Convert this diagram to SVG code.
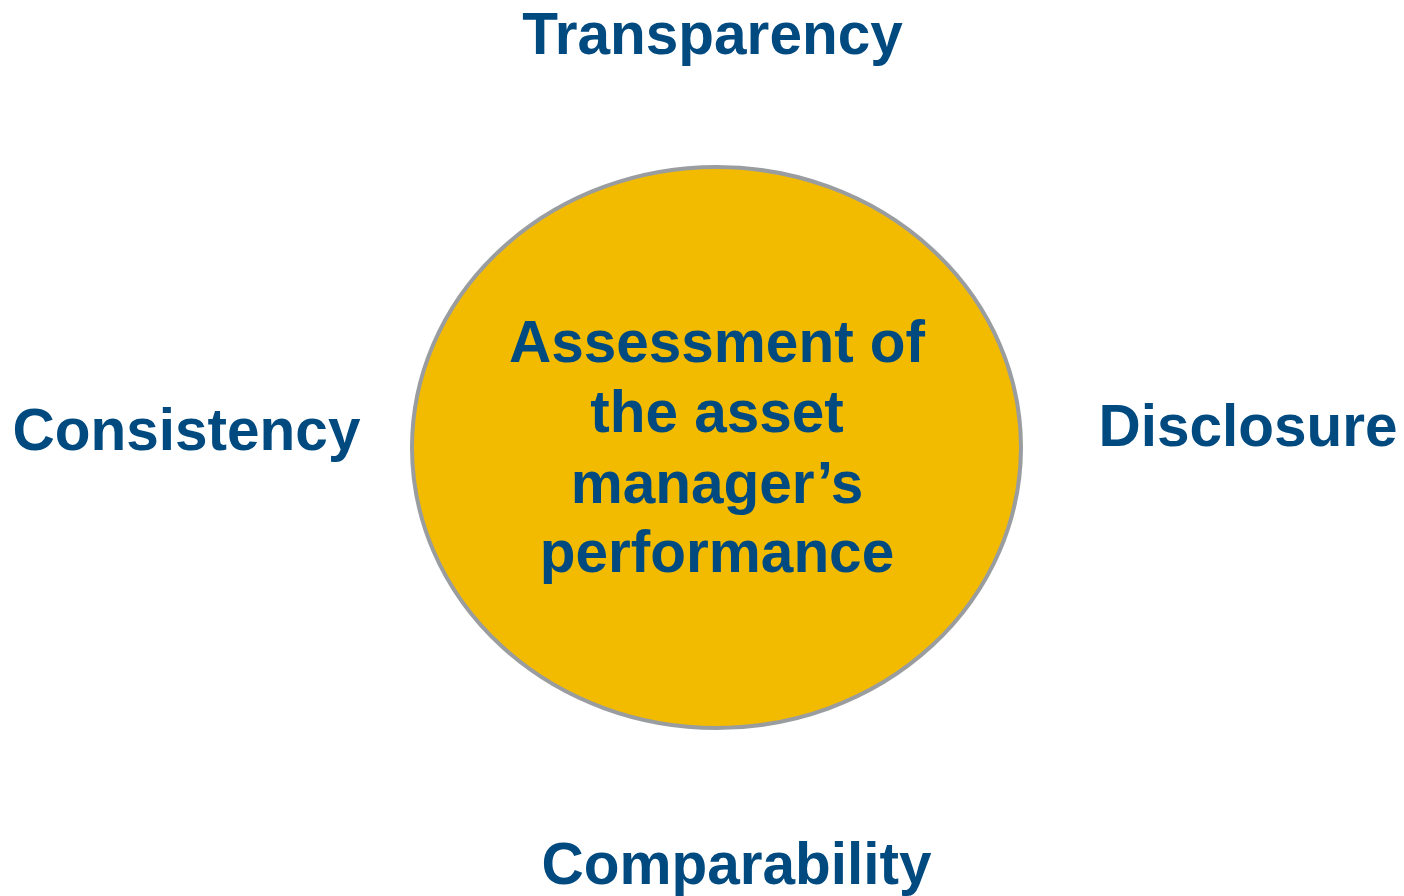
<svg xmlns="http://www.w3.org/2000/svg" width="1404" height="896" viewBox="0 0 1404 896">
<style>
text{font-family:"Liberation Sans",Arial,sans-serif;font-weight:bold;font-size:58.5px;fill:#004A80;text-anchor:middle}
</style>
<rect width="1404" height="896" fill="#fff"/>
<g id="center">
<ellipse cx="716.5" cy="447.5" rx="304.5" ry="280.5" fill="#F2BB00" stroke="#9A9DA0" stroke-width="4"/>
<text x="717" y="362">Assessment of</text>
<text x="717" y="432">the asset</text>
<text x="717" y="503">manager’s</text>
<text x="717" y="572">performance</text>
</g>
<g id="transparency"><text x="712.5" y="54">Transparency</text></g>
<g id="consistency"><text x="186.5" y="450">Consistency</text></g>
<g id="disclosure"><text x="1248" y="446">Disclosure</text></g>
<g id="comparability"><text x="736.5" y="884">Comparability</text></g>
<g id="connectors"></g>
</svg>
